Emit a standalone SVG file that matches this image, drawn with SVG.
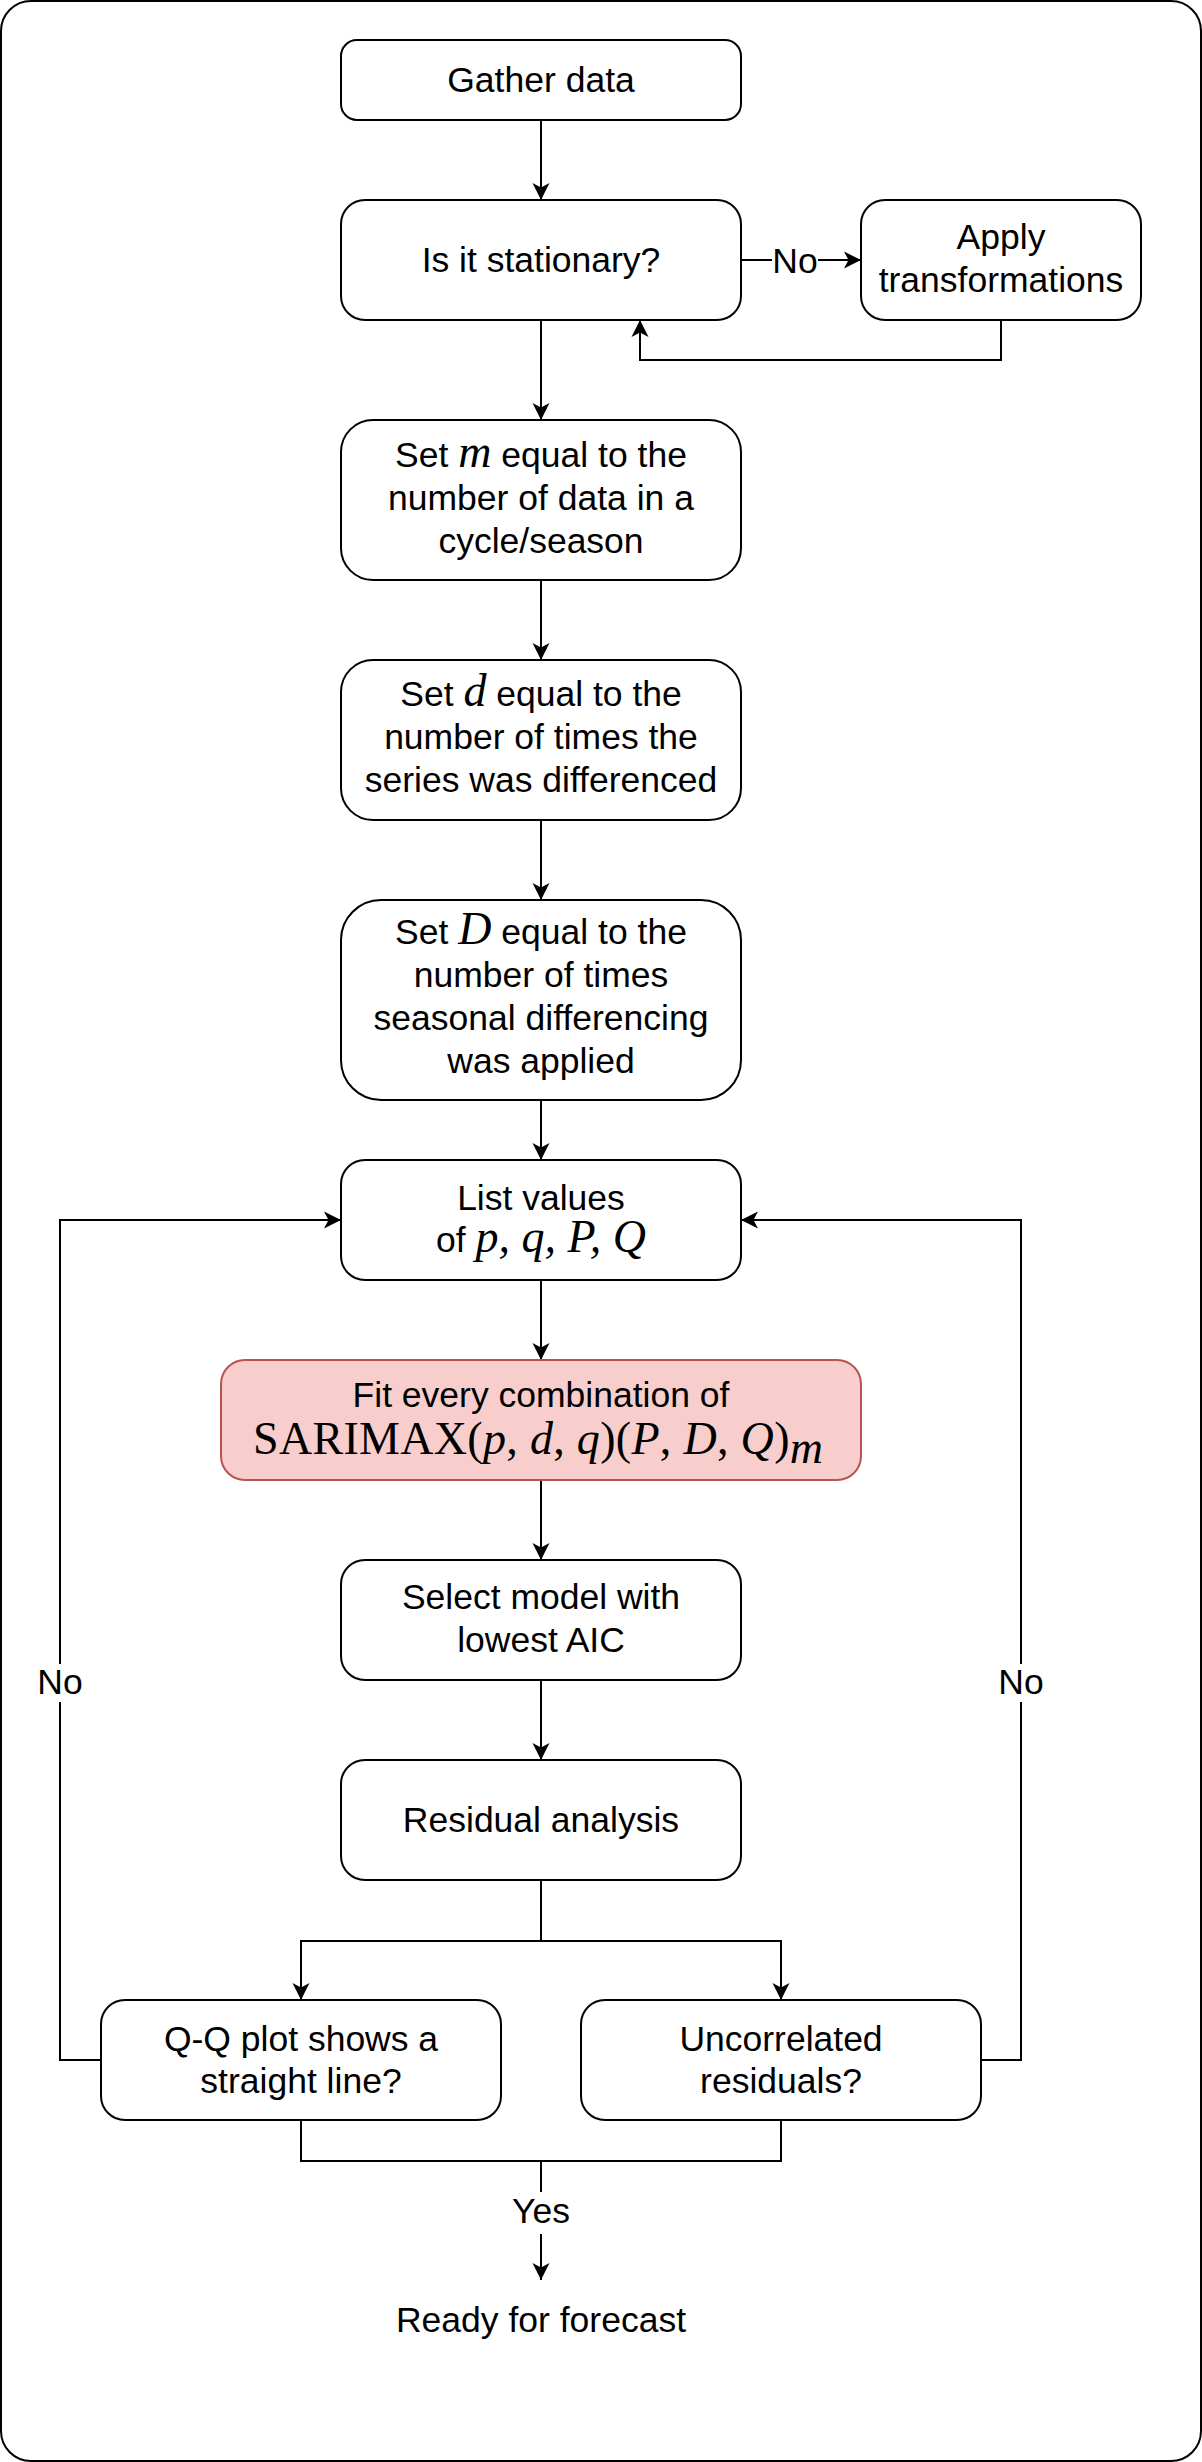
<svg xmlns="http://www.w3.org/2000/svg" width="1202" height="2462" viewBox="0 0 1202 2462">
<style>
.box{fill:#fff;stroke:#000;stroke-width:2}
.hot{fill:#f8cecc;stroke:#b85450;stroke-width:2}
.t{font-family:"Liberation Sans",Arial,sans-serif;font-size:35.5px;fill:#000;text-anchor:middle}
.mi{font-family:"Liberation Serif","Times New Roman",serif;font-style:italic;font-size:46px}
.mr{font-family:"Liberation Serif","Times New Roman",serif;font-style:normal;font-size:46px}
.edge{fill:none;stroke:#000;stroke-width:2}
.lbl{fill:#fff;stroke:none}
</style>
<defs>
<marker id="arr" markerUnits="userSpaceOnUse" viewBox="0 0 20 20" refX="17" refY="10" markerWidth="20" markerHeight="20" orient="auto">
<path d="M0,1.5 L17,10 L0,18.5 L4.5,10 Z" fill="#000"/>
</marker>
</defs>
<rect x="1" y="1" width="1200" height="2460" rx="30" ry="30" fill="#fff" stroke="#000" stroke-width="2"/>

<g id="connectors">
<path class="edge" d="M541,120 V200" marker-end="url(#arr)"/>
<path class="edge" d="M741,260 H861" marker-end="url(#arr)"/>
<path class="edge" d="M1001,320 V360 H640 V320" marker-end="url(#arr)"/>
<path class="edge" d="M541,320 V420" marker-end="url(#arr)"/>
<path class="edge" d="M541,580 V660" marker-end="url(#arr)"/>
<path class="edge" d="M541,820 V900" marker-end="url(#arr)"/>
<path class="edge" d="M541,1100 V1160" marker-end="url(#arr)"/>
<path class="edge" d="M541,1280 V1360" marker-end="url(#arr)"/>
<path class="edge" d="M541,1480 V1560" marker-end="url(#arr)"/>
<path class="edge" d="M541,1680 V1760" marker-end="url(#arr)"/>
<path class="edge" d="M541,1880 V1941 H301 V2000" marker-end="url(#arr)"/>
<path class="edge" d="M541,1941 H781 V2000" marker-end="url(#arr)"/>
<path class="edge" d="M101,2060 H60 V1220 H341" marker-end="url(#arr)"/>
<path class="edge" d="M981,2060 H1021 V1220 H741" marker-end="url(#arr)"/>
<path class="edge" d="M301,2120 V2161 H781 V2120"/>
<path class="edge" d="M541,2161 V2280" marker-end="url(#arr)"/>
<rect class="lbl" x="772" y="244" width="46" height="36"/>
<text class="t" x="795" y="273">No</text>
<rect class="lbl" x="38" y="1664" width="44" height="38"/>
<text class="t" x="60" y="1694">No</text>
<rect class="lbl" x="999" y="1664" width="44" height="38"/>
<text class="t" x="1021" y="1694">No</text>
<rect class="lbl" x="513" y="2192" width="56" height="42"/>
<text class="t" x="541" y="2223">Yes</text>
</g>

<g id="gather">
<rect class="box" x="341" y="40" width="400" height="80" rx="16"/>
<text class="t" x="541" y="92">Gather data</text>
</g>
<g id="stationary">
<rect class="box" x="341" y="200" width="400" height="120" rx="24"/>
<text class="t" x="541" y="272">Is it stationary?</text>
</g>
<g id="transform">
<rect class="box" x="861" y="200" width="280" height="120" rx="24"/>
<text class="t" x="1001" y="249">Apply</text>
<text class="t" x="1001" y="292">transformations</text>
</g>
<g id="set-m">
<rect class="box" x="341" y="420" width="400" height="160" rx="32"/>
<text class="t" x="541" y="467">Set <tspan class="mi">m</tspan> equal to the</text>
<text class="t" x="541" y="510">number of data in a</text>
<text class="t" x="541" y="553">cycle/season</text>
</g>
<g id="set-d">
<rect class="box" x="341" y="660" width="400" height="160" rx="32"/>
<text class="t" x="541" y="706">Set <tspan class="mi">d</tspan> equal to the</text>
<text class="t" x="541" y="749">number of times the</text>
<text class="t" x="541" y="792">series was differenced</text>
</g>
<g id="set-D">
<rect class="box" x="341" y="900" width="400" height="200" rx="40"/>
<text class="t" x="541" y="944">Set <tspan class="mi">D</tspan> equal to the</text>
<text class="t" x="541" y="987">number of times</text>
<text class="t" x="541" y="1030">seasonal differencing</text>
<text class="t" x="541" y="1073">was applied</text>
</g>
<g id="list">
<rect class="box" x="341" y="1160" width="400" height="120" rx="24"/>
<text class="t" x="541" y="1210">List values</text>
<text class="t" x="541" y="1252">of <tspan class="mi">p, q, P, Q</tspan></text>
</g>
<g id="fit">
<rect class="hot" x="221" y="1360" width="640" height="120" rx="24"/>
<text class="t" x="541" y="1407">Fit every combination of</text>
<text class="mr" x="253" y="1454" textLength="570" lengthAdjust="spacing">SARIMAX(<tspan class="mi">p</tspan>, <tspan class="mi">d</tspan>, <tspan class="mi">q</tspan>)(<tspan class="mi">P</tspan>, <tspan class="mi">D</tspan>, <tspan class="mi">Q</tspan>)<tspan class="mi" font-size="30" dy="9">m</tspan></text>
</g>
<g id="select">
<rect class="box" x="341" y="1560" width="400" height="120" rx="24"/>
<text class="t" x="541" y="1609">Select model with</text>
<text class="t" x="541" y="1652">lowest AIC</text>
</g>
<g id="residual">
<rect class="box" x="341" y="1760" width="400" height="120" rx="24"/>
<text class="t" x="541" y="1832">Residual analysis</text>
</g>
<g id="qq">
<rect class="box" x="101" y="2000" width="400" height="120" rx="24"/>
<text class="t" x="301" y="2051">Q-Q plot shows a</text>
<text class="t" x="301" y="2093">straight line?</text>
</g>
<g id="uncorrelated">
<rect class="box" x="581" y="2000" width="400" height="120" rx="24"/>
<text class="t" x="781" y="2051">Uncorrelated</text>
<text class="t" x="781" y="2093">residuals?</text>
</g>
<g id="ready">
<text class="t" x="541" y="2332">Ready for forecast</text>
</g>
</svg>
